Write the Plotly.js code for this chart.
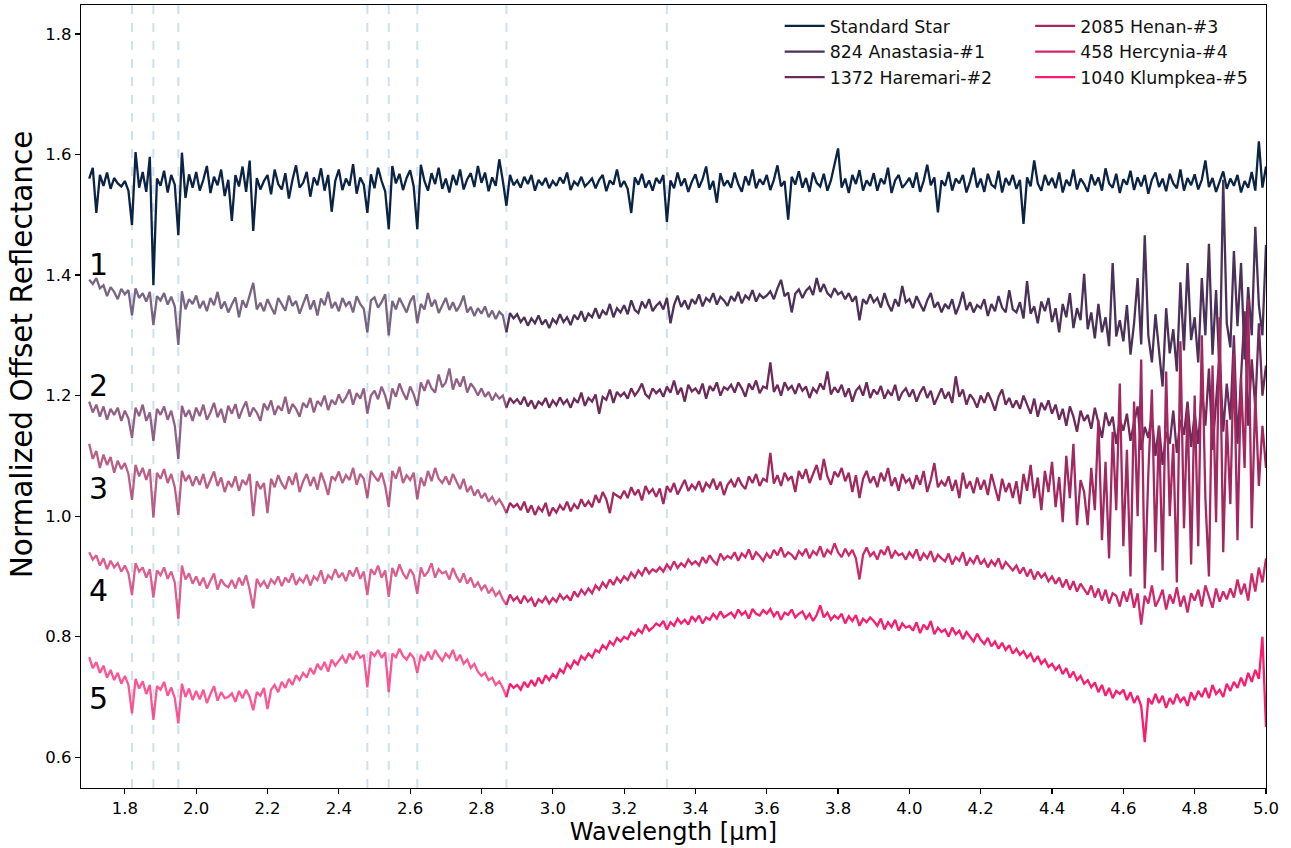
<!DOCTYPE html>
<html>
<head>
<meta charset="utf-8">
<script src="https://cdn.plot.ly/plotly-3.0.1.min.js"></script>
<style>html,body{margin:0;padding:0;background:#fff;}#chart{width:1291px;height:848px;}</style>
</head>
<body>
<div id="chart"></div>
<script>
// ---------------- DATA ----------------
const wavelength = [
1.70,1.71,1.72,1.73,1.74,1.75,1.76,1.77,1.78,1.79,
1.80,1.81,1.82,1.83,1.84,1.85,1.86,1.87,1.88,1.89,
1.90,1.91,1.92,1.93,1.94,1.95,1.96,1.97,1.98,1.99,
2.00,2.01,2.02,2.03,2.04,2.05,2.06,2.07,2.08,2.09,
2.10,2.11,2.12,2.13,2.14,2.15,2.16,2.17,2.18,2.19,
2.20,2.21,2.22,2.23,2.24,2.25,2.26,2.27,2.28,2.29,
2.30,2.31,2.32,2.33,2.34,2.35,2.36,2.37,2.38,2.39,
2.40,2.41,2.42,2.43,2.44,2.45,2.46,2.47,2.48,2.49,
2.50,2.51,2.52,2.53,2.54,2.55,2.56,2.57,2.58,2.59,
2.60,2.61,2.62,2.63,2.64,2.65,2.66,2.67,2.68,2.69,
2.70,2.71,2.72,2.73,2.74,2.75,2.76,2.77,2.78,2.79,
2.80,2.81,2.82,2.83,2.84,2.85,2.86,2.87,2.88,2.89,
2.90,2.91,2.92,2.93,2.94,2.95,2.96,2.97,2.98,2.99,
3.00,3.01,3.02,3.03,3.04,3.05,3.06,3.07,3.08,3.09,
3.10,3.11,3.12,3.13,3.14,3.15,3.16,3.17,3.18,3.19,
3.20,3.21,3.22,3.23,3.24,3.25,3.26,3.27,3.28,3.29,
3.30,3.31,3.32,3.33,3.34,3.35,3.36,3.37,3.38,3.39,
3.40,3.41,3.42,3.43,3.44,3.45,3.46,3.47,3.48,3.49,
3.50,3.51,3.52,3.53,3.54,3.55,3.56,3.57,3.58,3.59,
3.60,3.61,3.62,3.63,3.64,3.65,3.66,3.67,3.68,3.69,
3.70,3.71,3.72,3.73,3.74,3.75,3.76,3.77,3.78,3.79,
3.80,3.81,3.82,3.83,3.84,3.85,3.86,3.87,3.88,3.89,
3.90,3.91,3.92,3.93,3.94,3.95,3.96,3.97,3.98,3.99,
4.00,4.01,4.02,4.03,4.04,4.05,4.06,4.07,4.08,4.09,
4.10,4.11,4.12,4.13,4.14,4.15,4.16,4.17,4.18,4.19,
4.20,4.21,4.22,4.23,4.24,4.25,4.26,4.27,4.28,4.29,
4.30,4.31,4.32,4.33,4.34,4.35,4.36,4.37,4.38,4.39,
4.40,4.41,4.42,4.43,4.44,4.45,4.46,4.47,4.48,4.49,
4.50,4.51,4.52,4.53,4.54,4.55,4.56,4.57,4.58,4.59,
4.60,4.61,4.62,4.63,4.64,4.65,4.66,4.67,4.68,4.69,
4.70,4.71,4.72,4.73,4.74,4.75,4.76,4.77,4.78,4.79,
4.80,4.81,4.82,4.83,4.84,4.85,4.86,4.87,4.88,4.89,
4.90,4.91,4.92,4.93,4.94,4.95,4.96,4.97,4.98,4.99,
5.00];

const standardStar = [
1.560,1.578,1.503,1.566,1.548,1.570,1.543,1.561,1.552,1.547,
1.556,1.540,1.483,1.604,1.545,1.571,1.538,1.596,1.383,1.560,
1.548,1.573,1.537,1.566,1.550,1.466,1.603,1.528,1.567,1.545,
1.571,1.540,1.558,1.581,1.536,1.563,1.549,1.575,1.531,1.558,
1.490,1.566,1.547,1.580,1.538,1.590,1.473,1.561,1.542,1.556,
1.566,1.534,1.575,1.551,1.542,1.569,1.527,1.558,1.582,1.545,
1.553,1.571,1.530,1.562,1.549,1.577,1.540,1.566,1.505,1.556,
1.575,1.541,1.560,1.548,1.584,1.535,1.562,1.550,1.503,1.567,
1.544,1.578,1.556,1.539,1.476,1.581,1.552,1.568,1.541,1.561,
1.574,1.547,1.476,1.583,1.556,1.540,1.569,1.551,1.578,1.543,
1.560,1.537,1.566,1.549,1.575,1.542,1.559,1.569,1.546,1.581,
1.553,1.570,1.539,1.562,1.548,1.592,1.556,1.515,1.566,1.549,
1.557,1.545,1.563,1.551,1.566,1.540,1.558,1.549,1.561,1.544,
1.556,1.548,1.562,1.552,1.570,1.541,1.555,1.549,1.563,1.547,
1.553,1.560,1.544,1.558,1.566,1.539,1.557,1.550,1.575,1.546,
1.556,1.543,1.503,1.562,1.550,1.568,1.545,1.557,1.540,1.561,
1.552,1.566,1.488,1.557,1.544,1.570,1.548,1.560,1.538,1.555,
1.567,1.545,1.559,1.580,1.542,1.556,1.520,1.569,1.548,1.557,
1.545,1.570,1.551,1.538,1.564,1.549,1.575,1.544,1.559,1.550,
1.566,1.541,1.558,1.582,1.547,1.556,1.492,1.563,1.550,1.572,
1.545,1.561,1.538,1.570,1.553,1.547,1.568,1.540,1.557,1.585,
1.610,1.545,1.560,1.536,1.566,1.551,1.574,1.540,1.557,1.548,
1.569,1.540,1.560,1.551,1.578,1.536,1.557,1.566,1.545,1.552,
1.561,1.545,1.570,1.538,1.556,1.583,1.549,1.562,1.504,1.557,
1.548,1.571,1.540,1.560,1.552,1.566,1.537,1.555,1.578,1.545,
1.560,1.538,1.568,1.550,1.545,1.573,1.537,1.561,1.549,1.566,
1.543,1.558,1.485,1.562,1.547,1.590,1.552,1.540,1.566,1.549,
1.561,1.544,1.570,1.537,1.558,1.548,1.575,1.542,1.560,1.551,
1.538,1.567,1.549,1.562,1.540,1.577,1.552,1.545,1.568,1.536,
1.559,1.550,1.573,1.541,1.562,1.547,1.566,1.535,1.558,1.570,
1.546,1.560,1.539,1.568,1.552,1.544,1.575,1.540,1.561,1.549,
1.567,1.542,1.558,1.590,1.546,1.561,1.538,1.555,1.572,1.543,
1.560,1.548,1.566,1.537,1.556,1.545,1.571,1.540,1.622,1.545,
1.580];

const anastasia = [
1.392,1.385,1.395,1.378,1.383,1.365,1.380,1.372,1.360,1.377,
1.368,1.375,1.333,1.378,1.362,1.370,1.356,1.372,1.317,1.365,
1.358,1.370,1.351,1.364,1.348,1.284,1.373,1.343,1.360,1.352,
1.366,1.345,1.357,1.340,1.362,1.350,1.372,1.344,1.356,1.338,
1.351,1.363,1.330,1.358,1.346,1.367,1.387,1.343,1.354,1.340,
1.360,1.347,1.335,1.362,1.352,1.341,1.366,1.349,1.357,1.336,
1.352,1.368,1.343,1.358,1.333,1.361,1.350,1.372,1.345,1.355,
1.340,1.362,1.349,1.356,1.338,1.365,1.352,1.344,1.305,1.358,
1.363,1.346,1.355,1.368,1.300,1.357,1.343,1.362,1.350,1.338,
1.356,1.366,1.320,1.352,1.343,1.370,1.348,1.359,1.337,1.351,
1.362,1.342,1.355,1.340,1.350,1.366,1.338,1.347,1.332,1.345,
1.336,1.348,1.330,1.341,1.327,1.339,1.333,1.305,1.337,1.328,
1.335,1.322,1.330,1.316,1.328,1.320,1.333,1.318,1.326,1.312,
1.327,1.320,1.335,1.322,1.330,1.317,1.334,1.326,1.340,1.323,
1.336,1.330,1.345,1.328,1.341,1.334,1.352,1.330,1.345,1.338,
1.350,1.335,1.358,1.342,1.337,1.356,1.345,1.360,1.340,1.349,
1.355,1.343,1.362,1.320,1.350,1.366,1.347,1.358,1.343,1.360,
1.352,1.368,1.348,1.362,1.356,1.370,1.351,1.364,1.358,1.349,
1.365,1.357,1.372,1.353,1.366,1.360,1.375,1.356,1.368,1.362,
1.366,1.373,1.360,1.378,1.392,1.365,1.371,1.338,1.369,1.376,
1.362,1.374,1.380,1.367,1.395,1.372,1.385,1.370,1.364,1.378,
1.368,1.372,1.360,1.370,1.356,1.365,1.325,1.360,1.352,1.368,
1.355,1.362,1.346,1.370,1.352,1.340,1.360,1.348,1.382,1.355,
1.360,1.345,1.365,1.352,1.340,1.358,1.370,1.346,1.355,1.338,
1.352,1.344,1.360,1.335,1.350,1.372,1.342,1.355,1.338,1.350,
1.345,1.360,1.332,1.352,1.340,1.365,1.346,1.338,1.375,1.343,
1.338,1.355,1.328,1.390,1.336,1.348,1.320,1.356,1.340,1.362,
1.322,1.345,1.305,1.352,1.330,1.370,1.312,1.345,1.325,1.402,
1.310,1.338,1.295,1.352,1.305,1.330,1.282,1.420,1.298,1.325,
1.290,1.350,1.268,1.320,1.395,1.285,1.466,1.300,1.255,1.335,
1.280,1.215,1.345,1.270,1.310,1.240,1.388,1.275,1.420,1.292,
1.330,1.255,1.395,1.300,1.452,1.268,1.375,1.235,1.558,1.320,
1.280,1.440,1.315,1.420,1.260,1.380,1.300,1.480,1.350,1.300,
1.450];

const haremari = [
1.190,1.172,1.185,1.165,1.182,1.160,1.178,1.168,1.180,1.158,
1.175,1.162,1.130,1.180,1.166,1.185,1.158,1.172,1.125,1.178,
1.168,1.182,1.160,1.175,1.150,1.095,1.183,1.165,1.176,1.158,
1.180,1.166,1.185,1.160,1.172,1.188,1.164,1.178,1.155,1.183,
1.170,1.186,1.162,1.178,1.190,1.165,1.180,1.172,1.158,1.187,
1.176,1.192,1.168,1.183,1.175,1.198,1.170,1.186,1.178,1.165,
1.188,1.180,1.196,1.172,1.191,1.184,1.200,1.176,1.193,1.185,
1.202,1.188,1.197,1.210,1.185,1.204,1.195,1.212,1.170,1.200,
1.208,1.194,1.215,1.200,1.178,1.212,1.198,1.220,1.205,1.193,
1.215,1.202,1.183,1.222,1.208,1.226,1.212,1.205,1.235,1.214,
1.222,1.245,1.210,1.228,1.215,1.232,1.205,1.220,1.212,1.200,
1.212,1.198,1.206,1.192,1.203,1.195,1.200,1.180,1.196,1.188,
1.194,1.185,1.198,1.182,1.192,1.178,1.190,1.185,1.196,1.180,
1.192,1.184,1.197,1.186,1.193,1.180,1.195,1.188,1.205,1.183,
1.196,1.190,1.202,1.170,1.198,1.193,1.210,1.188,1.206,1.199,
1.205,1.195,1.212,1.200,1.208,1.220,1.202,1.196,1.212,1.204,
1.210,1.198,1.215,1.205,1.225,1.202,1.213,1.190,1.218,1.207,
1.212,1.203,1.220,1.195,1.216,1.208,1.222,1.200,1.214,1.210,
1.218,1.205,1.222,1.212,1.198,1.220,1.210,1.225,1.204,1.215,
1.212,1.255,1.206,1.218,1.200,1.222,1.210,1.216,1.203,1.220,
1.208,1.215,1.196,1.212,1.205,1.220,1.210,1.240,1.202,1.214,
1.205,1.218,1.198,1.212,1.190,1.208,1.215,1.200,1.222,1.196,
1.210,1.202,1.216,1.195,1.208,1.200,1.218,1.192,1.205,1.212,
1.198,1.210,1.190,1.205,1.215,1.196,1.208,1.185,1.200,1.212,
1.195,1.206,1.188,1.232,1.198,1.210,1.185,1.202,1.194,1.180,
1.200,1.188,1.205,1.192,1.175,1.198,1.210,1.185,1.196,1.180,
1.192,1.178,1.200,1.185,1.170,1.195,1.165,1.188,1.176,1.192,
1.170,1.185,1.160,1.178,1.150,1.182,1.165,1.140,1.175,1.158,
1.168,1.145,1.180,1.155,1.130,1.172,1.150,1.165,1.120,1.160,
1.142,1.170,1.125,1.155,1.182,1.110,1.148,1.130,1.165,1.100,
1.150,1.085,1.140,1.120,1.175,1.105,1.160,1.135,1.190,1.115,
1.170,1.120,1.210,1.150,1.245,1.110,1.190,1.270,1.140,1.220,
1.160,1.300,1.120,1.240,1.340,1.150,1.260,1.180,1.320,1.200,
1.250];

const henan = [
1.120,1.095,1.108,1.080,1.102,1.085,1.098,1.072,1.092,1.078,
1.088,1.070,1.027,1.085,1.066,1.080,1.060,1.078,0.998,1.072,
1.062,1.078,1.055,1.070,1.048,1.002,1.075,1.058,1.068,1.050,
1.066,1.052,1.070,1.046,1.060,1.074,1.050,1.064,1.040,1.058,
1.048,1.066,1.042,1.060,1.052,1.070,1.000,1.058,1.045,1.055,
1.005,1.062,1.048,1.068,1.054,1.045,1.066,1.052,1.072,1.040,
1.058,1.070,1.050,1.065,1.044,1.072,1.056,1.035,1.066,1.060,
1.074,1.055,1.068,1.060,1.080,1.052,1.070,1.062,1.030,1.075,
1.066,1.058,1.072,1.050,1.015,1.075,1.062,1.082,1.055,1.068,
1.060,1.072,1.028,1.064,1.050,1.075,1.058,1.080,1.062,1.055,
1.066,1.052,1.070,1.058,1.045,1.062,1.040,1.050,1.034,1.044,
1.030,1.038,1.024,1.032,1.020,1.028,1.018,1.005,1.022,1.015,
1.020,1.010,1.024,1.006,1.018,1.002,1.015,1.008,1.022,1.000,
1.014,1.006,1.018,1.010,1.024,1.008,1.020,1.012,1.028,1.016,
1.025,1.015,1.035,1.022,1.040,1.028,1.005,1.038,1.034,1.030,
1.042,1.030,1.048,1.035,1.044,1.026,1.050,1.038,1.045,1.032,
1.046,1.020,1.050,1.040,1.055,1.036,1.048,1.060,1.042,1.052,
1.045,1.058,1.040,1.055,1.048,1.062,1.044,1.057,1.035,1.052,
1.060,1.048,1.064,1.052,1.045,1.066,1.055,1.070,1.050,1.062,
1.058,1.105,1.054,1.068,1.050,1.072,1.060,1.066,1.040,1.075,
1.062,1.078,1.055,1.070,1.085,1.060,1.095,1.066,1.052,1.074,
1.065,1.080,1.058,1.072,1.040,1.068,1.030,1.062,1.075,1.055,
1.066,1.048,1.072,1.058,1.080,1.050,1.064,1.042,1.070,1.056,
1.062,1.045,1.068,1.052,1.075,1.040,1.060,1.088,1.048,1.058,
1.050,1.066,1.042,1.060,1.030,1.072,1.046,1.058,1.038,1.064,
1.044,1.060,1.035,1.070,1.048,1.025,1.062,1.040,1.055,1.030,
1.058,1.020,1.070,1.042,1.085,1.030,1.064,1.010,1.075,1.040,
1.090,1.015,1.065,0.990,1.100,1.030,1.120,0.985,1.060,1.040,
0.985,1.080,1.010,1.160,0.960,1.090,0.930,1.140,1.010,1.220,
0.950,1.110,0.900,1.190,1.000,1.260,0.880,1.070,1.210,0.940,
1.150,0.910,1.240,1.000,1.120,0.890,1.290,0.980,1.180,0.920,
1.200,0.950,1.300,1.030,0.900,1.250,0.990,1.330,0.940,1.160,
1.020,1.270,0.960,1.230,1.080,1.360,0.980,1.200,1.050,1.150,
1.080];

const hercynia = [
0.940,0.928,0.935,0.918,0.930,0.912,0.926,0.915,0.922,0.908,
0.918,0.905,0.869,0.922,0.908,0.915,0.898,0.912,0.865,0.910,
0.902,0.915,0.896,0.908,0.890,0.830,0.918,0.895,0.905,0.888,
0.900,0.885,0.898,0.880,0.893,0.905,0.878,0.895,0.886,0.882,
0.894,0.880,0.898,0.885,0.902,0.878,0.847,0.896,0.884,0.892,
0.880,0.895,0.888,0.900,0.884,0.898,0.890,0.905,0.886,0.897,
0.890,0.903,0.885,0.900,0.894,0.910,0.888,0.902,0.896,0.912,
0.898,0.906,0.892,0.910,0.900,0.915,0.896,0.908,0.869,0.912,
0.903,0.918,0.898,0.910,0.866,0.914,0.900,0.920,0.905,0.896,
0.912,0.902,0.871,0.915,0.900,0.908,0.922,0.898,0.912,0.905,
0.908,0.895,0.914,0.900,0.890,0.905,0.888,0.898,0.882,0.890,
0.878,0.886,0.872,0.880,0.868,0.875,0.862,0.853,0.870,0.860,
0.866,0.855,0.868,0.858,0.864,0.850,0.862,0.857,0.866,0.855,
0.864,0.858,0.870,0.862,0.868,0.860,0.875,0.866,0.878,0.870,
0.880,0.872,0.885,0.878,0.890,0.882,0.895,0.886,0.898,0.890,
0.900,0.894,0.906,0.898,0.910,0.902,0.915,0.905,0.912,0.908,
0.915,0.908,0.920,0.912,0.925,0.914,0.922,0.916,0.928,0.920,
0.925,0.918,0.932,0.922,0.935,0.926,0.920,0.938,0.928,0.934,
0.930,0.940,0.926,0.938,0.932,0.945,0.928,0.940,0.934,0.926,
0.938,0.930,0.944,0.935,0.948,0.932,0.940,0.936,0.928,0.942,
0.935,0.946,0.930,0.942,0.936,0.950,0.932,0.944,0.938,0.955,
0.940,0.932,0.946,0.935,0.944,0.930,0.895,0.936,0.948,0.934,
0.940,0.928,0.944,0.936,0.950,0.930,0.942,0.935,0.938,0.928,
0.940,0.932,0.945,0.926,0.938,0.930,0.942,0.924,0.936,0.930,
0.925,0.938,0.920,0.932,0.926,0.940,0.918,0.930,0.922,0.935,
0.920,0.928,0.915,0.926,0.918,0.930,0.912,0.924,0.916,0.910,
0.918,0.905,0.915,0.900,0.912,0.895,0.908,0.898,0.905,0.892,
0.900,0.888,0.898,0.882,0.895,0.878,0.892,0.875,0.888,0.880,
0.870,0.885,0.865,0.880,0.860,0.878,0.855,0.872,0.868,0.850,
0.875,0.858,0.880,0.848,0.872,0.820,0.868,0.855,0.885,0.850,
0.862,0.878,0.845,0.870,0.855,0.882,0.850,0.868,0.840,0.872,
0.860,0.878,0.850,0.885,0.865,0.848,0.880,0.858,0.875,0.862,
0.880,0.865,0.895,0.870,0.888,0.860,0.905,0.875,0.915,0.890,
0.930];

const klumpkea = [
0.766,0.748,0.758,0.740,0.752,0.732,0.745,0.728,0.740,0.722,
0.735,0.720,0.673,0.730,0.714,0.726,0.705,0.720,0.662,0.718,
0.712,0.725,0.702,0.716,0.698,0.656,0.722,0.700,0.714,0.695,
0.710,0.696,0.712,0.690,0.705,0.718,0.694,0.708,0.698,0.700,
0.706,0.692,0.710,0.698,0.712,0.700,0.678,0.708,0.702,0.715,
0.680,0.712,0.720,0.708,0.725,0.715,0.730,0.720,0.736,0.728,
0.740,0.732,0.748,0.738,0.755,0.745,0.758,0.742,0.762,0.752,
0.760,0.768,0.756,0.772,0.762,0.776,0.765,0.770,0.716,0.775,
0.768,0.778,0.765,0.774,0.708,0.772,0.766,0.780,0.768,0.762,
0.772,0.765,0.740,0.770,0.760,0.775,0.762,0.778,0.768,0.760,
0.772,0.765,0.778,0.760,0.770,0.755,0.762,0.748,0.755,0.742,
0.735,0.740,0.728,0.732,0.720,0.726,0.715,0.700,0.722,0.715,
0.720,0.712,0.725,0.716,0.728,0.718,0.732,0.722,0.736,0.728,
0.738,0.732,0.746,0.740,0.755,0.748,0.760,0.754,0.768,0.762,
0.772,0.766,0.778,0.774,0.786,0.780,0.792,0.786,0.798,0.792,
0.800,0.796,0.808,0.802,0.812,0.806,0.820,0.810,0.815,0.822,
0.818,0.826,0.812,0.824,0.818,0.830,0.822,0.828,0.820,0.834,
0.826,0.835,0.822,0.832,0.828,0.838,0.830,0.842,0.832,0.836,
0.840,0.832,0.845,0.836,0.842,0.830,0.846,0.838,0.835,0.844,
0.838,0.846,0.834,0.842,0.828,0.840,0.836,0.845,0.832,0.838,
0.842,0.830,0.838,0.826,0.836,0.852,0.832,0.840,0.828,0.835,
0.830,0.838,0.822,0.834,0.826,0.836,0.818,0.830,0.824,0.832,
0.826,0.818,0.830,0.812,0.824,0.816,0.828,0.810,0.822,0.815,
0.818,0.810,0.824,0.806,0.820,0.812,0.826,0.804,0.815,0.808,
0.812,0.800,0.815,0.804,0.810,0.796,0.808,0.800,0.792,0.805,
0.795,0.788,0.798,0.784,0.792,0.780,0.790,0.778,0.786,0.772,
0.780,0.770,0.776,0.765,0.772,0.758,0.768,0.755,0.762,0.750,
0.755,0.745,0.752,0.738,0.748,0.732,0.742,0.728,0.735,0.722,
0.728,0.716,0.724,0.708,0.720,0.702,0.715,0.698,0.710,0.705,
0.712,0.695,0.708,0.690,0.702,0.685,0.625,0.698,0.688,0.705,
0.690,0.702,0.682,0.698,0.688,0.705,0.692,0.700,0.685,0.708,
0.695,0.710,0.700,0.715,0.698,0.720,0.705,0.712,0.700,0.722,
0.710,0.725,0.715,0.732,0.718,0.740,0.725,0.745,0.730,0.800,
0.650];

const seriesNames = ['Standard Star','824 Anastasia-#1','1372 Haremari-#2','2085 Henan-#3','458 Hercynia-#4','1040 Klumpkea-#5'];
const seriesColors = ['#0b2344','#4b3158','#6c2b5b','#a2285f','#cf286a','#f91d6f'];
const absorptionLines = [1.82,1.88,1.95,2.48,2.54,2.62,2.87,3.32];
const offsetLabels = ['1','2','3','4','5'];

// ---------------- PLOT ----------------
const asteroidValues = [anastasia, haremari, henan, hercynia, klumpkea];
const splitIndex = wavelength.indexOf(2.87);
const LW = 2.3;
const traces = [];
traces.push({
  x: wavelength, y: standardStar, type: 'scatter', mode: 'lines',
  name: seriesNames[0], line: {color: seriesColors[0], width: LW}, legend: 'legend'
});
asteroidValues.forEach((vals, i) => {
  const legendId = i < 2 ? 'legend' : 'legend2';
  traces.push({
    x: wavelength.slice(0, splitIndex + 1), y: vals.slice(0, splitIndex + 1),
    type: 'scatter', mode: 'lines', name: seriesNames[i + 1], showlegend: false,
    opacity: 0.75, line: {color: seriesColors[i + 1], width: LW}, legend: legendId
  });
  traces.push({
    x: wavelength.slice(splitIndex), y: vals.slice(splitIndex),
    type: 'scatter', mode: 'lines', name: seriesNames[i + 1],
    line: {color: seriesColors[i + 1], width: LW}, legend: legendId
  });
});

const labelPos = [[1.727, 1.417], [1.727, 1.217], [1.727, 1.046], [1.727, 0.877], [1.727, 0.698]];
const annotations = offsetLabels.map((t, i) => ({
  x: labelPos[i][0], y: labelPos[i][1], xref: 'x', yref: 'y', text: t, showarrow: false,
  font: {family: 'DejaVu Sans', size: 30, color: '#000'}, xanchor: 'center', yanchor: 'middle'
}));
annotations.push({
  xref: 'paper', yref: 'paper', x: 0, y: 0.554, xshift: -59, textangle: -90,
  text: 'Normalized Offset Reflectance', showarrow: false,
  xanchor: 'center', yanchor: 'middle',
  font: {family: 'DejaVu Sans', size: 29.5, color: '#000'}
});

const shapes = absorptionLines.map(v => ({
  type: 'line', xref: 'x', yref: 'paper', x0: v, x1: v, y0: 0, y1: 1, layer: 'below',
  line: {color: 'rgba(174,205,228,0.6)', width: 2, dash: 'dash'}
}));

const axisCommon = {
  showline: true, mirror: true, linecolor: '#000', linewidth: 1.2,
  ticks: 'outside', ticklen: 5, tickwidth: 1.2, tickcolor: '#000',
  showgrid: false, zeroline: false,
  tickfont: {family: 'DejaVu Sans', size: 16.5, color: '#000'}
};

const legendCommon = {
  xanchor: 'left', yanchor: 'top', bgcolor: 'rgba(255,255,255,0)',
  font: {family: 'DejaVu Sans', size: 17.4, color: '#111'}, tracegroupgap: 0, itemwidth: 40
};

const layout = {
  width: 1291, height: 848,
  margin: {l: 81, r: 25, t: 5, b: 60},
  paper_bgcolor: '#fff', plot_bgcolor: '#fff',
  font: {family: 'DejaVu Sans', color: '#000'},
  xaxis: Object.assign({}, axisCommon, {
    range: [1.677, 5.0], tick0: 1.8, dtick: 0.2, tickformat: '.1f',
    title: {text: 'Wavelength [µm]', font: {family: 'DejaVu Sans', size: 24, color: '#000'}, standoff: 6}
  }),
  yaxis: Object.assign({}, axisCommon, {
    range: [0.549, 1.848], tick0: 0.6, dtick: 0.2, tickformat: '.1f'
  }),
  shapes: shapes,
  annotations: annotations,
  legend: Object.assign({}, legendCommon, {x: 0.5896, y: 0.996}),
  legend2: Object.assign({}, legendCommon, {x: 0.801, y: 0.996})
};

Plotly.newPlot('chart', traces, layout, {staticPlot: true, displayModeBar: false});
</script>
</body>
</html>
